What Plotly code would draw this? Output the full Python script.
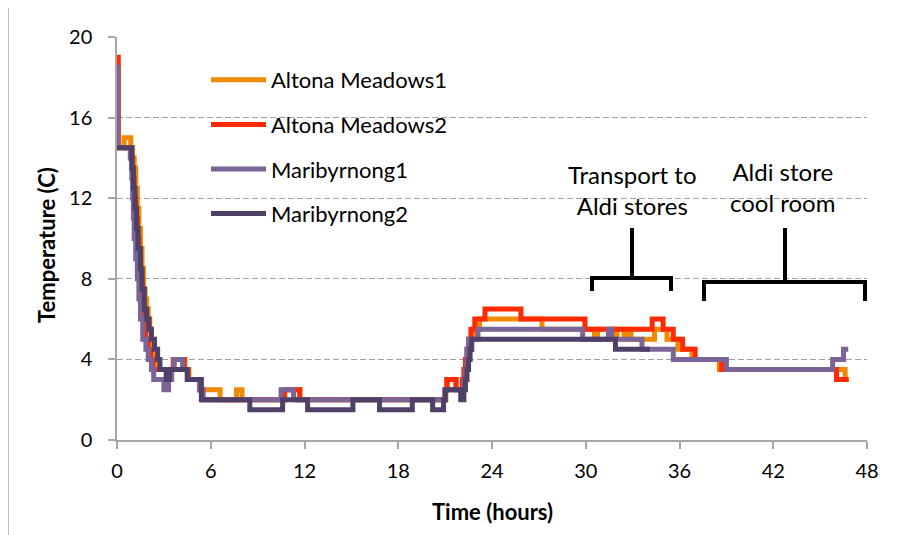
import plotly.graph_objects as go

# ---------------- data ----------------
series_names = ["Altona Meadows1", "Altona Meadows2", "Maribyrnong1", "Maribyrnong2"]
series_colors = ["#F08A00", "#FF2A00", "#7A6498", "#4F4068"]

time_am1 = [0, 0.08, 0.45, 0.88, 1.0, 1.1, 1.2, 1.3, 1.4, 1.5, 1.6, 1.7, 1.8, 1.9, 2.0, 2.1, 2.2, 2.3,
            2.45, 2.6, 3.65, 4.35, 4.6, 5.3, 6.6, 7.65, 8.0, 10.75, 11.7, 21.05, 21.15, 21.7, 22.2,
            22.3, 22.4, 22.55, 22.7, 22.85, 23.2, 27.2, 30.55, 30.75, 31.85, 32.0, 32.45, 32.6, 32.9,
            34.4, 35.2, 35.9, 36.8, 38.55, 46.6, 46.85]
temp_am1 = [18.5, 14.5, 15, 14.5, 14, 13.5, 12.5, 11.5, 10.5, 9.5, 8.5, 7.5, 7, 6.5, 6, 5.5, 5, 4.5,
            4, 3.5, 4, 3.5, 3, 2.5, 2, 2.5, 2, 2.5, 2, 2.5, 3, 2.5, 3,
            3.5, 4, 4.5, 5, 5.5, 6, 5.5, 5, 5.5, 5, 5.5, 5, 5.5, 5,
            5.5, 5, 4.5, 4, 3.5, 3, 3]

time_am2 = [0, 0.08, 0.9, 1.0, 1.1, 1.2, 1.3, 1.4, 1.5, 1.6, 1.7, 1.85, 2.0, 2.15, 2.3, 3.6, 4.3,
            4.55, 5.3, 5.5, 10.7, 11.7, 21.0, 21.1, 21.7, 22.1, 22.2, 22.3, 22.4, 22.5, 22.65, 22.9,
            23.55, 25.85, 29.95, 34.25, 34.95, 35.6, 36.2, 37.0, 38.7, 46.05, 46.8]
temp_am2 = [19, 14.5, 14, 13, 12, 11, 10, 9, 8, 7, 6, 5, 4.5, 4, 3.5, 4, 3.5,
            3, 2.5, 2, 2.5, 2, 2.5, 3, 2.5, 3, 3.5, 4, 4.5, 5, 5.5, 6,
            6.5, 6, 5.5, 6, 5.5, 5, 4.5, 4, 3.5, 3, 3]

time_m1 = [0, 0.05, 0.85, 0.95, 1.0, 1.05, 1.1, 1.2, 1.3, 1.4, 1.5, 1.65, 1.85, 2.0, 2.2, 2.35,
           3.0, 3.3, 3.5, 3.65, 4.2, 4.5, 5.3, 5.5, 10.5, 11.3, 21.0, 22.2, 22.3, 22.4, 22.5, 23.1,
           29.8, 31.45, 31.65, 33.6, 35.6, 39.0, 45.8, 46.5, 46.8]
temp_m1 = [18.5, 14.5, 14, 13, 12, 11, 10, 9, 8, 7, 6, 5, 4.5, 4, 3.5, 3,
           2.5, 3, 3.5, 4, 3.5, 3, 2.5, 2, 2.5, 2, 2.5, 3, 3.5, 4.5, 5, 5.5,
           5, 5.5, 5, 4.5, 4, 3.5, 4, 4.5, 4.5]

time_m2 = [0, 0.95, 1.05, 1.15, 1.25, 1.35, 1.5, 1.6, 1.75, 1.9, 2.05, 2.2, 2.4, 2.6, 2.75, 3.15,
           3.35, 4.5, 5.4, 8.5, 10.6, 12.2, 15.1, 16.8, 18.9, 20.2, 20.9, 21.0, 22.0, 22.2, 22.3,
           22.4, 22.5, 22.6, 22.7, 31.9, 34.1]
temp_m2 = [14.5, 13.5, 12.5, 11.5, 10.5, 9.5, 8.5, 7.5, 6.5, 6, 5.5, 5, 4.5, 4, 3.5, 3,
           3.5, 3, 2, 1.5, 2, 1.5, 2, 1.5, 2, 1.5, 2, 2.5, 2, 2.5, 3,
           3.5, 4, 4.5, 5, 4.5, 4.5]

x_ticks = [0, 6, 12, 18, 24, 30, 36, 42, 48]
y_ticks = [0, 4, 8, 12, 16, 20]

times = [time_am1, time_am2, time_m1, time_m2]
temps = [temp_am1, temp_am2, temp_m1, temp_m2]

# ---------------- layout (page has an 8px body margin) ----------------
W, H = 891, 527
L, R, T, B = 109, 32, 29, 95
PW, PH = W - L - R, H - T - B          # 750 x 403
X0, Y0 = 117, 440                      # page pixel of the plot origin


def px(x):
    return (x - X0) / PW


def py(y):
    return (Y0 - y) / PH


FONT = "Lato, 'Open Sans', sans-serif"

fig = go.Figure()
for i in range(4):
    fig.add_trace(go.Scatter(
        x=times[i], y=temps[i], name=series_names[i], mode="lines",
        line=dict(color=series_colors[i], width=5, shape="hv"),
        legendgroup=f"g{i}",
    ))

shapes = [
    dict(type="rect", xref="paper", yref="paper", x0=px(185), x1=px(480), y0=py(235), y1=py(58),
         fillcolor="white", line=dict(width=0), layer="between"),
    dict(type="path", xref="paper", yref="paper",
         path=f"M {px(592)},{py(291)} L {px(592)},{py(278)} L {px(671)},{py(278)} L {px(671)},{py(291)} "
              f"M {px(632)},{py(278)} L {px(632)},{py(228)}",
         line=dict(color="black", width=4)),
    dict(type="path", xref="paper", yref="paper",
         path=f"M {px(704)},{py(301)} L {px(704)},{py(282)} L {px(865)},{py(282)} L {px(865)},{py(301)} "
              f"M {px(785)},{py(282)} L {px(785)},{py(228)}",
         line=dict(color="black", width=4)),
    dict(type="line", xref="paper", yref="paper", x0=px(8.5), x1=px(8.5), y0=py(540), y1=py(8),
         line=dict(color="#BFBFBF", width=1)),
]

annotations = [
    dict(text="Transport to<br>Aldi stores", x=px(632), y=py(190), xref="paper", yref="paper",
         showarrow=False, font=dict(family=FONT, size=24, color="black"), xanchor="center", yanchor="middle"),
    dict(text="Aldi store<br>cool room", x=px(782), y=py(187), xref="paper", yref="paper",
         showarrow=False, font=dict(family=FONT, size=24, color="black"), xanchor="center", yanchor="middle"),
    dict(text="<b>Temperature (C)</b>", x=px(46), y=py(245), xref="paper", yref="paper", textangle=-90,
         showarrow=False, font=dict(family=FONT, size=22, color="black"), xanchor="center", yanchor="middle"),
    dict(text="<b>Time (hours)</b>", x=px(492), y=py(511), xref="paper", yref="paper",
         showarrow=False, font=dict(family=FONT, size=22, color="black"), xanchor="center", yanchor="middle"),
]

fig.update_layout(
    width=W, height=H,
    margin=dict(l=L, r=R, t=T, b=B, pad=0),
    paper_bgcolor="white", plot_bgcolor="white",
    font=dict(family=FONT, size=20, color="black"),
    showlegend=True,
    legend=dict(x=px(206), y=py(59), xanchor="left", yanchor="top", bgcolor="rgba(0,0,0,0)",
                font=dict(family=FONT, size=22, color="black"), tracegroupgap=13, itemwidth=55,
                traceorder="grouped"),
    shapes=shapes,
    annotations=annotations,
)
fig.update_xaxes(range=[0, 48], tickvals=x_ticks, ticktext=[str(v) for v in x_ticks],
                 showgrid=False, zeroline=False, showline=True, linecolor="#A6A6A6", linewidth=1.5,
                 ticks="outside", ticklen=7, tickcolor="#A6A6A6", tickwidth=1.5,
                 tickfont=dict(family=FONT, size=20, color="black"), ticklabelstandoff=5)
fig.update_yaxes(range=[0, 20], tickvals=y_ticks, ticktext=[str(v) for v in y_ticks],
                 showgrid=True, gridcolor="#A0A0A0", griddash="6px,3px", gridwidth=1.3,
                 zeroline=False, showline=True, linecolor="#A6A6A6", linewidth=1.5,
                 ticks="outside", ticklen=7, tickcolor="#A6A6A6", tickwidth=1.5,
                 tickfont=dict(family=FONT, size=20, color="black"), ticklabelstandoff=12)

fig.write_html("out.html")
